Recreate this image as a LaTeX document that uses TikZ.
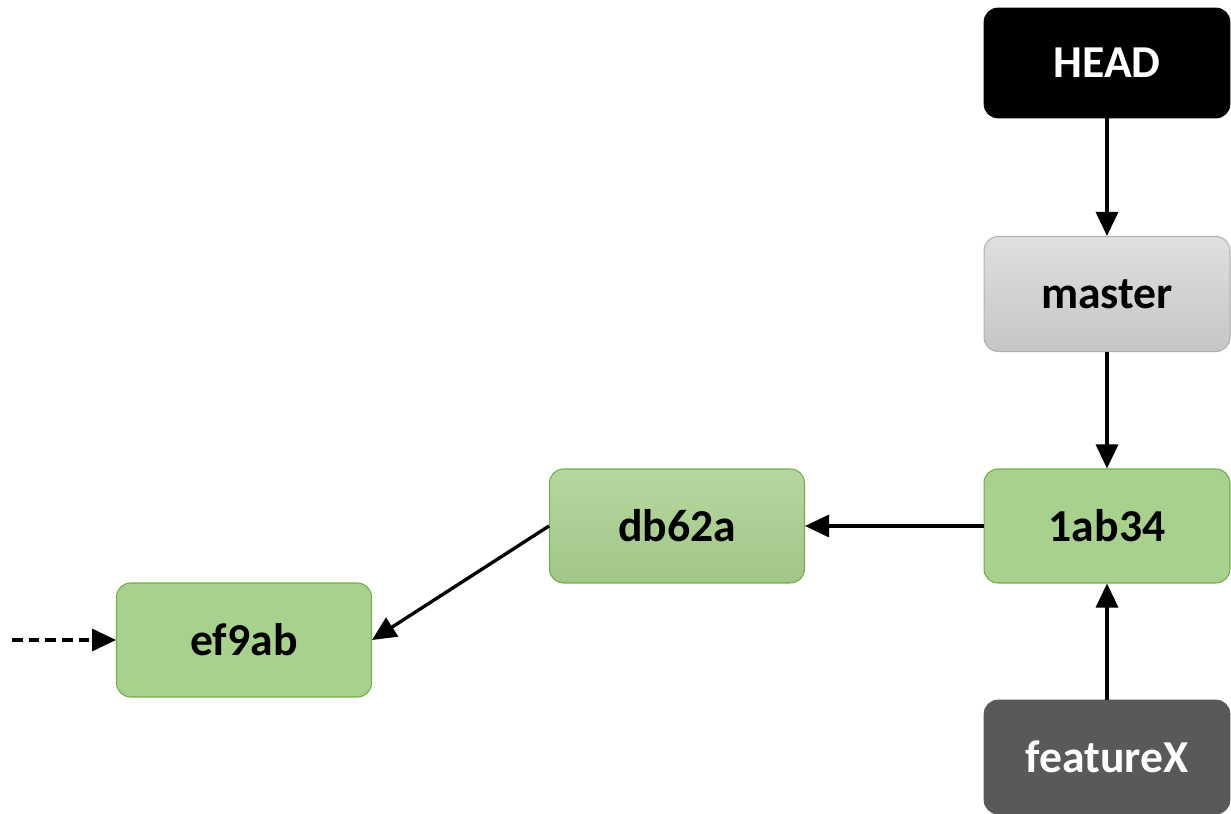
\documentclass[tikz,border=0pt]{standalone}
\usepackage{fontspec}
\setmainfont{Carlito}
\usetikzlibrary{arrows.meta, positioning}
\definecolor{commitgreen}{HTML}{A9D18E}
\definecolor{commitedge}{HTML}{70AD47}
\definecolor{branchgray}{HTML}{595959}

\begin{document}
\begin{tikzpicture}[
        x=0.02cm, y=-0.02cm,
        box/.style={rounded corners=0.28cm, minimum width=5.1cm, minimum height=2.28cm,
                    font=\fontsize{26}{30}\selectfont\bfseries, inner sep=0pt},
        refbox/.style={box, minimum width=4.92cm},
        commit/.style={box, fill=commitgreen, draw=commitedge, line width=0.6pt},
        link/.style={-{Triangle[length=0.48cm, width=0.44cm]}, line width=1.9pt}
        ]
        \useasboundingbox (0,0) rectangle (1231,814);

        % branch pointers
        \node[refbox, fill=black, draw=black, text=white, minimum height=2.2cm] (head) at (1107, 63) {HEAD};
        \node[refbox, top color=gray!25, bottom color=gray!45, draw=gray!60, line width=0.6pt, minimum height=2.3cm] (master) at (1107, 294) {master};
        \node[refbox, fill=branchgray, draw=branchgray, text=white] (featurex) at (1107, 757) {featureX};

        % commits
        \node[commit, minimum width=4.92cm] (c1ab) at (1107, 526) {1ab34};
        \node[commit, top color=commitgreen!85!white, bottom color=commitgreen!95!black] (cdb6) at (677, 526) {db62a};
        \node[commit] (cef9) at (244, 640) {ef9ab};
        \coordinate (older) at (12, 640);

        \draw[link] (head) -- (master);
        \draw[link] (master) -- (c1ab);
        \draw[link] (c1ab) -- (cdb6);
        \draw[link] (cdb6.west) -- (cef9.east);
        \draw[link] (featurex) -- (c1ab);
        \draw[link, dash pattern=on 6pt off 3.5pt] (older) -- (cef9);
    \end{tikzpicture}
\end{document}
